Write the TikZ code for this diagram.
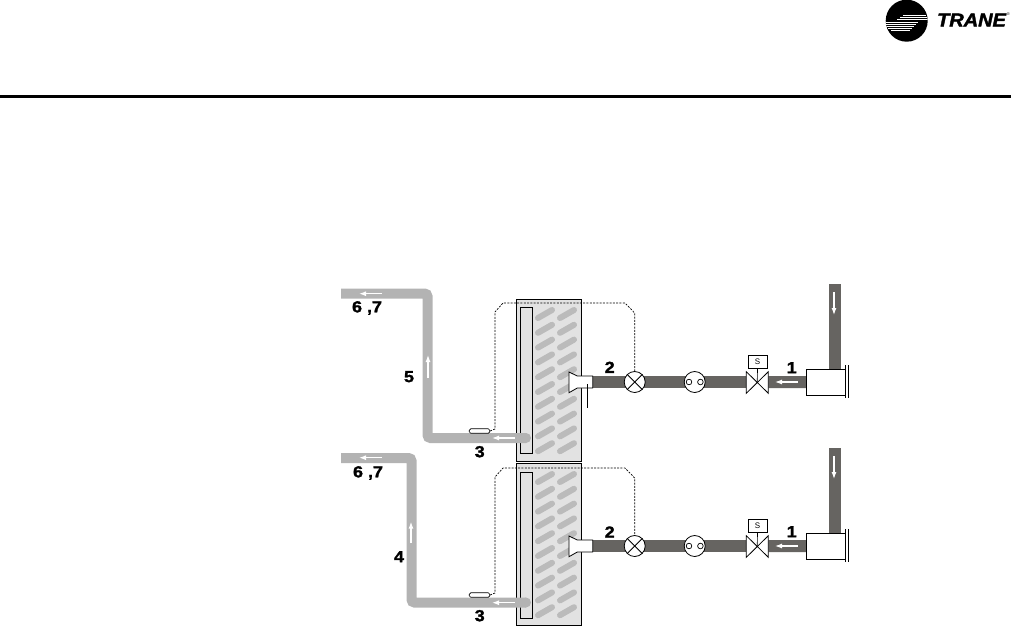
\documentclass[tikz,border=0pt]{standalone}
\usepackage{fontspec}
\setmainfont{Liberation Sans}
\newfontfamily\numfont[FakeBold=1.6, FakeStretch=1.12]{Liberation Sans Bold}
\newfontfamily\logofont[FakeBold=2, FakeStretch=1.08]{Liberation Sans Bold Italic}
\usetikzlibrary{backgrounds, positioning, arrows.meta}

\definecolor{liquidgray}{HTML}{666461}
\definecolor{suctiongray}{HTML}{B3B3B3}
\definecolor{coilgray}{HTML}{E2E2E2}
\definecolor{fingray}{HTML}{BBBBBB}

\tikzset{
	liquid/.style={draw=liquidgray, line width=12pt},
	suction/.style={draw=suctiongray, line width=10pt, rounded corners=3pt},
	flow/.style={draw=white, line width=1.2pt, -{Latex[length=7pt,width=5pt]}},
	sensing/.style={dash pattern=on 2pt off 1.3pt, line width=0.7pt},
	number/.style={font=\fontsize{16}{16}\selectfont\numfont, inner sep=0pt},
	fin/.style={draw=fingray, line width=6pt, line cap=round},
	part/.style={draw=black, fill=white, line width=0.8pt},
	coilbox/.style={draw=black, fill=coilgray, line width=0.8pt, inner sep=0pt},
	meter/.style={part, circle, minimum width=21pt, inner sep=0pt},
}

\begin{document}
\begin{tikzpicture}[x=1pt, y=-1pt]
	\useasboundingbox (0,0) rectangle (1011,626);

	\draw[line width=3pt] (0,96.5) -- (1011,96.5);

	\fill[black] (906.7,20.7) circle (21);
	\begin{scope}
		\clip (906.7,20.7) circle (21);
		\foreach \y/\a/\b in {15/903/926, 17/900/927, 19/897/928, 22/885/918, 24/885/916, 26/886/914, 28/888/912, 30/891/910} {
			\draw[white, line width=0.7pt] (\a,\y) -- (\b,\y);
		}
	\end{scope}
	\node[inner sep=0pt, font=\fontsize{18.5}{18.5}\selectfont\logofont] (trane) at (971.5,20) {TRANE};
	\node[inner sep=0pt, font=\fontsize{4}{4}\selectfont, right=0.5pt of trane.north east, yshift=-1pt] (tm) {®};

	% upper circuit
	\coordinate (sa) at (341,293.5);
	\coordinate (sb) at (427.5,293.5);
	\coordinate (sc) at (427.5,438);
	\coordinate (sd) at (526,438);

	\node[coilbox, minimum width=65pt, minimum height=162pt] (coil) at (548.5,380) {};
	\foreach \y in {0,...,9} {
		\draw[fin] (538,318+14.8*\y) -- (552,310+14.8*\y);
		\draw[fin] (560,318+14.8*\y) -- (574,310+14.8*\y);
	}
	\node[coilbox, minimum width=12pt, minimum height=146pt] (tube) at (526.5,380) {};

	\draw[suction] (sa) -- (sb) -- (sc) -- (sd);
	\fill[suctiongray] (sd) circle (5);
	\draw[flow] (382,293.7) -- (359,293.7);
	\draw[flow] (428,378) -- (428,355);
	\draw[flow] (515,438) -- (492,438);

	\coordinate (cdin) at (835,284);
	\node[part, minimum width=39.5pt, minimum height=26.5pt, inner sep=0pt] (cond) at (826,382.3) {};
	\node[meter] (exv) at (634.7,382) {};
	\node[meter] (glass) at (694.7,382) {};
	\coordinate (sol) at (757.3,382);
	\coordinate (solw) at (746.3,382);
	\coordinate (sole) at (768.3,382);
	\coordinate (dist) at (593,382);

	\begin{scope}[on background layer]
		\draw[liquid] (dist) -- (exv.center);
		\draw[liquid] (exv.center) -- (glass.center);
		\draw[liquid] (glass.center) -- (solw);
		\draw[liquid] (sole) -- (cond.center);
		\draw[liquid] (cdin) -- (cond.north -| cdin);
	\end{scope}
	\draw[flow] (834,292) -- (834,315);
	\draw[flow] (797.7,382) -- (775,382);

	\draw[line width=0.8pt] (exv.45) -- (exv.225);
	\draw[line width=0.8pt] (exv.135) -- (exv.315);
	\draw[line width=0.7pt] (689,382) circle (2.8);
	\draw[line width=0.7pt] (700.4,382) circle (2.8);

	\draw[part] (746.3,371.7) -- (768.3,393.3) -- (768.3,371.7) -- (746.3,393.3) -- cycle;
	\node[part, minimum width=19pt, minimum height=13pt, inner sep=0pt, font=\fontsize{8}{8}\selectfont] (solbox) at (757.5,361.5) {S};
	\draw[line width=0.7pt] (solbox) -- (sol);

	\draw[line width=0.8pt] (845.7,365) -- (845.7,398);
	\draw[line width=0.8pt] (848.6,365) -- (848.6,398);

	\draw[part] (569,372) -- (577.3,376) -- (592.7,376) -- (592.7,388) -- (577.3,388) -- (569,392.7) -- cycle;
	\draw[line width=0.7pt] (587.3,384) -- (587.3,408);

	\node[part, rounded corners=1.5pt, minimum width=20.5pt, minimum height=4.5pt, inner sep=0pt, line width=0.7pt] (bulb) at (479.5,431) {};
	\draw[sensing] (bulb.east) -- (495,429) -- (495,312) -- (503,303) -- (625,303) -- (634.7,313) -- (exv.north);

	\node[number] (n1) at (791.7,367.7) {1};
	\node[number] (n2) at (609.7,367.3) {2};
	\node[number] (n3) at (479.7,451.7) {3};
	\node[number] (n5) at (409,376.7) {5};
	\node[number] (n67) at (367,308) {6 ,7};

	% lower circuit
	\coordinate (la) at (341,458);
	\coordinate (lb) at (411.5,458);
	\coordinate (lc) at (411.5,602.5);
	\coordinate (ld) at (526,602.5);

	\node[coilbox, minimum width=65pt, minimum height=162pt] (lcoil) at (548.5,544) {};
	\foreach \y in {0,...,9} {
		\draw[fin] (538,482+14.8*\y) -- (552,474+14.8*\y);
		\draw[fin] (560,482+14.8*\y) -- (574,474+14.8*\y);
	}
	\node[coilbox, minimum width=12pt, minimum height=146pt] (ltube) at (526.5,545.3) {};

	\draw[suction] (la) -- (lb) -- (lc) -- (ld);
	\fill[suctiongray] (ld) circle (5);
	\draw[flow] (382,457.7) -- (359,457.7);
	\draw[flow] (411,543) -- (411,521.7);
	\draw[flow] (515,602.7) -- (492,602.7);

	\coordinate (lcdin) at (835,448);
	\node[part, minimum width=39.5pt, minimum height=26.5pt, inner sep=0pt] (lcond) at (826,546.3) {};
	\node[meter] (lexv) at (634.7,546) {};
	\node[meter] (lglass) at (694.7,546) {};
	\coordinate (lsol) at (757.3,546);
	\coordinate (lsolw) at (746.3,546);
	\coordinate (lsole) at (768.3,546);
	\coordinate (ldist) at (593,546);

	\begin{scope}[on background layer]
		\draw[liquid] (ldist) -- (lexv.center);
		\draw[liquid] (lexv.center) -- (lglass.center);
		\draw[liquid] (lglass.center) -- (lsolw);
		\draw[liquid] (lsole) -- (lcond.center);
		\draw[liquid] (lcdin) -- (lcond.north -| lcdin);
	\end{scope}
	\draw[flow] (834,456) -- (834,479);
	\draw[flow] (797.7,546) -- (775,546);

	\draw[line width=0.8pt] (lexv.45) -- (lexv.225);
	\draw[line width=0.8pt] (lexv.135) -- (lexv.315);
	\draw[line width=0.7pt] (689,546) circle (2.8);
	\draw[line width=0.7pt] (700.4,546) circle (2.8);

	\draw[part] (746.3,535.7) -- (768.3,557.3) -- (768.3,535.7) -- (746.3,557.3) -- cycle;
	\node[part, minimum width=19pt, minimum height=13pt, inner sep=0pt, font=\fontsize{8}{8}\selectfont] (lsolbox) at (757.5,525.5) {S};
	\draw[line width=0.7pt] (lsolbox) -- (lsol);

	\draw[line width=0.8pt] (845.7,529) -- (845.7,562);
	\draw[line width=0.8pt] (848.6,529) -- (848.6,562);

	\draw[part] (569,536) -- (577.3,540) -- (592.7,540) -- (592.7,552) -- (577.3,552) -- (569,556.7) -- cycle;

	\node[part, rounded corners=1.5pt, minimum width=20.5pt, minimum height=4.5pt, inner sep=0pt, line width=0.7pt] (lbulb) at (479.5,595) {};
	\draw[sensing] (lbulb.east) -- (495,593) -- (495,477) -- (503,468) -- (625,468) -- (634.7,478) -- (lexv.north);

	\node[number] (m1) at (791.7,531.7) {1};
	\node[number] (m2) at (609.7,532) {2};
	\node[number] (m3) at (479.7,615.7) {3};
	\node[number] (m4) at (399,556.7) {4};
	\node[number] (m67) at (368,473) {6 ,7};
\end{tikzpicture}
\end{document}
